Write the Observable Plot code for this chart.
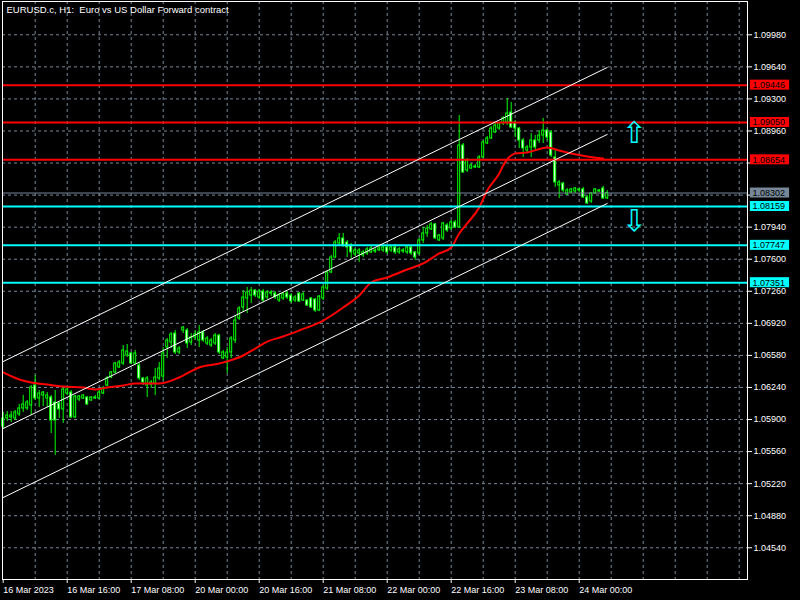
<!DOCTYPE html>
<html>
<head>
<meta charset="utf-8">
<script src="https://cdn.jsdelivr.net/npm/d3@7"></script>
<script src="https://cdn.jsdelivr.net/npm/@observablehq/plot@0.6"></script>
<style>
  html, body { margin: 0; padding: 0; background: #000; }
  #chart { width: 800px; height: 600px; }
</style>
</head>
<body>
<div id="chart"></div>
<script>
const title = "EURUSD.c, H1:  Euro vs US Dollar Forward contract";

// Hourly candles, bar 0 = 16 Mar 2023 00:00
const open = [
1.05826,1.05911,1.05922,1.05911,1.05954,1.06017,1.06017,1.06049,1.06261,1.06123,
1.06155,1.06123,1.06134,1.06081,1.06070,1.06007,1.06176,1.06186,1.05922,1.06112,
1.06123,1.06134,1.06102,1.06123,1.06123,1.06176,1.06261,1.06346,1.06399,1.06452,
1.06494,1.06579,1.06600,1.06494,1.06473,1.06335,1.06261,1.06271,1.06282,1.06335,
1.06356,1.06664,1.06717,1.06812,1.06611,1.06844,1.06844,1.06717,1.06770,1.06738,
1.06823,1.06706,1.06685,1.06706,1.06791,1.06547,1.06558,1.06611,1.06738,1.06971,
1.07088,1.07183,1.07215,1.07268,1.07194,1.07257,1.07194,1.07236,1.07236,1.07162,
1.07183,1.07236,1.07215,1.07162,1.07236,1.07162,1.07162,1.07183,1.07173,1.07056,
1.07183,1.07289,1.07459,1.07618,1.07767,1.07820,1.07777,1.07746,1.07651,1.07661,
1.07640,1.07661,1.07672,1.07682,1.07693,1.07693,1.07725,1.07693,1.07725,1.07672,
1.07682,1.07672,1.07725,1.07672,1.07661,1.07799,1.07873,1.07916,1.07969,1.07799,
1.07820,1.07958,1.07926,1.07990,1.07937,1.08806,1.08541,1.08562,1.08573,1.08573,
1.08679,1.08827,1.08880,1.08944,1.08986,1.09040,1.09050,1.09156,1.09050,1.08986,
1.08859,1.08753,1.08785,1.08859,1.08859,1.08912,1.08965,1.08944,1.08679,1.08382,
1.08403,1.08286,1.08308,1.08318,1.08329,1.08340,1.08255,1.08212,1.08297,1.08318,
1.08350,1.08244];
const high = [
1.05975,1.05985,1.05985,1.05996,1.06060,1.06155,1.06102,1.06261,1.06367,1.06208,
1.06197,1.06186,1.06155,1.06208,1.06081,1.06240,1.06240,1.06208,1.06155,1.06155,
1.06165,1.06144,1.06144,1.06155,1.06208,1.06250,1.06356,1.06409,1.06505,1.06526,
1.06685,1.06696,1.06611,1.06632,1.06494,1.06346,1.06356,1.06314,1.06441,1.06505,
1.06664,1.06759,1.06823,1.06844,1.06674,1.06886,1.06865,1.06812,1.06844,1.06897,
1.06844,1.06780,1.06759,1.06812,1.06802,1.06632,1.06664,1.06780,1.07003,1.07098,
1.07268,1.07300,1.07300,1.07279,1.07279,1.07279,1.07268,1.07268,1.07257,1.07236,
1.07247,1.07257,1.07236,1.07215,1.07247,1.07247,1.07173,1.07194,1.07183,1.07215,
1.07321,1.07481,1.07640,1.07799,1.07873,1.07873,1.07799,1.07767,1.07714,1.07714,
1.07693,1.07725,1.07735,1.07714,1.07735,1.07746,1.07746,1.07746,1.07757,1.07725,
1.07714,1.07735,1.07735,1.07682,1.07820,1.07937,1.07958,1.07990,1.07979,1.07863,
1.07990,1.07979,1.08011,1.08011,1.09124,1.08827,1.08668,1.08615,1.08605,1.08700,
1.08859,1.08902,1.09008,1.09040,1.09050,1.09114,1.09305,1.09262,1.09071,1.08997,
1.08880,1.08806,1.08933,1.08912,1.08965,1.09093,1.08976,1.08965,1.08753,1.08435,
1.08414,1.08350,1.08350,1.08361,1.08350,1.08361,1.08276,1.08308,1.08350,1.08340,
1.08371,1.08329];
const low = [
1.05805,1.05879,1.05869,1.05890,1.05933,1.05975,1.05996,1.05943,1.06102,1.06028,
1.06038,1.06028,1.05752,1.05519,1.05911,1.05858,1.06155,1.05911,1.05911,1.06091,
1.06112,1.06049,1.06091,1.06112,1.06112,1.06165,1.06250,1.06335,1.06388,1.06441,
1.06473,1.06558,1.06484,1.06484,1.06314,1.06261,1.06134,1.06229,1.06155,1.06314,
1.06314,1.06547,1.06653,1.06590,1.06590,1.06812,1.06653,1.06685,1.06738,1.06664,
1.06717,1.06685,1.06664,1.06685,1.06590,1.06537,1.06388,1.06547,1.06706,1.06950,
1.07035,1.07024,1.07130,1.07194,1.07173,1.07141,1.07173,1.07204,1.07173,1.07141,
1.07162,1.07173,1.07130,1.07141,1.07141,1.07151,1.07098,1.07077,1.07035,1.07045,
1.07162,1.07268,1.07449,1.07608,1.07746,1.07725,1.07618,1.07608,1.07629,1.07566,
1.07618,1.07640,1.07661,1.07661,1.07682,1.07672,1.07651,1.07672,1.07651,1.07651,
1.07661,1.07651,1.07640,1.07587,1.07640,1.07767,1.07831,1.07905,1.07810,1.07788,
1.07799,1.07884,1.07905,1.07926,1.07926,1.08509,1.08520,1.08552,1.08562,1.08562,
1.08668,1.08817,1.08870,1.08933,1.08965,1.09018,1.09018,1.08986,1.08891,1.08774,
1.08679,1.08732,1.08679,1.08753,1.08827,1.08827,1.08859,1.08679,1.08361,1.08244,
1.08308,1.08276,1.08297,1.08297,1.08308,1.08244,1.08180,1.08191,1.08286,1.08308,
1.08233,1.08233];
const close = [
1.05911,1.05943,1.05943,1.05975,1.06017,1.06060,1.06081,1.06240,1.06123,1.06176,
1.06186,1.06155,1.05890,1.05890,1.06007,1.06218,1.06218,1.05922,1.06144,1.06144,
1.06155,1.06060,1.06134,1.06134,1.06186,1.06229,1.06335,1.06399,1.06494,1.06505,
1.06632,1.06621,1.06494,1.06600,1.06335,1.06293,1.06335,1.06293,1.06346,1.06441,
1.06600,1.06738,1.06802,1.06611,1.06653,1.06876,1.06706,1.06770,1.06802,1.06823,
1.06738,1.06759,1.06738,1.06791,1.06611,1.06611,1.06611,1.06759,1.06950,1.07077,
1.07194,1.07247,1.07268,1.07215,1.07257,1.07162,1.07247,1.07247,1.07194,1.07215,
1.07226,1.07194,1.07151,1.07194,1.07151,1.07226,1.07109,1.07088,1.07056,1.07204,
1.07300,1.07459,1.07618,1.07777,1.07820,1.07746,1.07725,1.07672,1.07693,1.07693,
1.07672,1.07704,1.07714,1.07693,1.07714,1.07725,1.07672,1.07725,1.07672,1.07704,
1.07693,1.07725,1.07661,1.07618,1.07799,1.07873,1.07926,1.07969,1.07820,1.07852,
1.07979,1.07905,1.07990,1.07937,1.08806,1.08520,1.08647,1.08594,1.08583,1.08679,
1.08838,1.08880,1.08986,1.09018,1.09040,1.09093,1.09146,1.08997,1.08986,1.08859,
1.08774,1.08785,1.08859,1.08785,1.08912,1.08965,1.08891,1.08700,1.08414,1.08414,
1.08329,1.08329,1.08340,1.08350,1.08340,1.08255,1.08191,1.08297,1.08340,1.08329,
1.08244,1.08302];

// Red moving average, read at sample bars
const maBars = [0,4,7,11,15,20,23,26,30,33,39,44,49,54,60,63,66,70,74,80,85,89,92,96,101,105,109,112,114,116,119,121,124,125,128,131,136,139,142,146,150];
const maValues = [1.06399,1.06325,1.06293,1.06271,1.06250,1.06240,1.06218,1.06240,1.06261,1.06282,1.06282,1.06346,1.06452,1.06494,1.06579,1.06653,1.06727,1.06780,1.06844,1.06950,1.07088,1.07215,1.07353,1.07406,1.07491,1.07555,1.07661,1.07725,1.07873,1.07979,1.08149,1.08329,1.08509,1.08594,1.08721,1.08732,1.08785,1.08753,1.08721,1.08689,1.08668];

// Equidistant channel: start bar / end bar prices
const channelBars = [0, 151];
const channelUpper = [1.06515, 1.09633];
const channelMiddle = [1.05805, 1.08923];
const channelLower = [1.05073, 1.08191];

const redLevels = [1.09446, 1.09050, 1.08654];
const cyanLevels = [1.08159, 1.07747, 1.07351];
const bidPrice = 1.08302;

const yTicks = [1.04540,1.04880,1.05220,1.05560,1.05900,1.06240,1.06580,1.06920,1.07260,1.07600,1.07940,1.08280,1.08620,1.08960,1.09300,1.09640,1.09980];
// tick labels hidden behind the price labels in the reference
const yTicksHidden = [1.08280, 1.08620];
const xTickBars = [0,16,32,48,64,80,96,112,128,144];
const xTickLabels = ["16 Mar 2023","16 Mar 16:00","17 Mar 08:00","20 Mar 00:00","20 Mar 16:00","21 Mar 08:00","22 Mar 00:00","22 Mar 16:00","23 Mar 08:00","24 Mar 00:00"];
const xGridBars = d3.range(8, 186, 8);

// arrows (bar, price)
const arrows = [
  {i: 157.8, p: 1.08934, s: "⇧"},
  {i: 157.8, p: 1.08001, s: "⇩"}
];

const bars = open.map((o, i) => ({i, o, h: high[i], l: low[i], c: close[i]}));
const ma = maBars.map((b, k) => ({i: b, p: maValues[k]}));
const channel = [
  ...channelBars.map((b, k) => ({i: b, p: channelUpper[k], g: "u"})),
  ...channelBars.map((b, k) => ({i: b, p: channelMiddle[k], g: "m"})),
  ...channelBars.map((b, k) => ({i: b, p: channelLower[k], g: "l"}))
];
const levelLabels = [
  ...redLevels.map(v => ({v, bg: "#ff0000", fg: "#000"})),
  {v: bidPrice, bg: "#778899", fg: "#000"},
  ...cyanLevels.map(v => ({v, bg: "#00ffff", fg: "#000"}))
];

const halfBox = 5 * 0.00010605;
const fmt = d3.format(".5f");

const chart = Plot.plot({
  width: 800,
  height: 600,
  marginLeft: 2,
  marginRight: 53,
  marginTop: 1,
  marginBottom: 21,
  style: {background: "#000", color: "#fff", fontFamily: "Liberation Sans, Arial, sans-serif", fontSize: "9px"},
  x: {domain: [-0.175, 186.075], axis: null},
  y: {domain: [1.042035, 1.10333], axis: null},
  marks: [
    Plot.ruleY(yTicks, {stroke: "#778899", strokeDasharray: "3,3", strokeWidth: 1}),
    Plot.ruleX(xGridBars, {stroke: "#778899", strokeDasharray: "3,3", strokeWidth: 1}),
    Plot.axisY(yTicks, {anchor: "right", label: null, tickSize: 4, tickPadding: 2,
      tickFormat: d => yTicksHidden.includes(d) ? "" : fmt(d), fill: "#fff", stroke: "#fff"}),
    Plot.axisX(xTickBars, {anchor: "bottom", label: null, tickSize: 4, tickPadding: 3,
      tickFormat: d => xTickLabels[xTickBars.indexOf(d)], textAnchor: "start", fill: "#fff", stroke: "#fff"}),
    Plot.text([title], {frameAnchor: "top-left", dx: 4, dy: 5, text: d => d, fill: "#fff", textAnchor: "start", lineAnchor: "top", fontSize: 9.5}),
    // candles
    Plot.ruleX(bars, {x: "i", y1: "l", y2: "h", stroke: "#00ff00", strokeWidth: 1}),
    Plot.rect(bars, {x1: d => d.i - 0.25, x2: d => d.i + 0.25, y1: "o", y2: "c",
      fill: d => d.c < d.o ? "#ffffff" : "#000000", stroke: "#00ff00", strokeWidth: 1}),
    // moving average
    Plot.line(ma, {x: "i", y: "p", stroke: "#ff0000", strokeWidth: 2, curve: "monotone-x"}),
    // levels
    Plot.ruleY(redLevels, {stroke: "#ff0000", strokeWidth: 2}),
    Plot.ruleY(cyanLevels, {stroke: "#00ffff", strokeWidth: 2}),
    Plot.ruleY([bidPrice], {stroke: "#778899", strokeWidth: 1}),
    // channel
    Plot.line(channel, {x: "i", y: "p", z: "g", stroke: "#ffffff", strokeWidth: 1}),
    // arrows
    Plot.text(arrows, {x: "i", y: "p", text: "s", fill: "#00ffff", fontSize: 30, fontFamily: "DejaVu Sans"}),
    // level labels on right axis
    Plot.rect(levelLabels, {x1: 186.8, x2: 196.6, y1: d => d.v - halfBox, y2: d => d.v + halfBox, fill: "bg"}),
    Plot.text(levelLabels, {x: 187.3, y: "v", text: d => d.v.toFixed(5), fill: "fg", textAnchor: "start"}),
    Plot.frame({stroke: "#fff"})
  ]
});
document.getElementById("chart").appendChild(chart);
</script>
</body>
</html>
